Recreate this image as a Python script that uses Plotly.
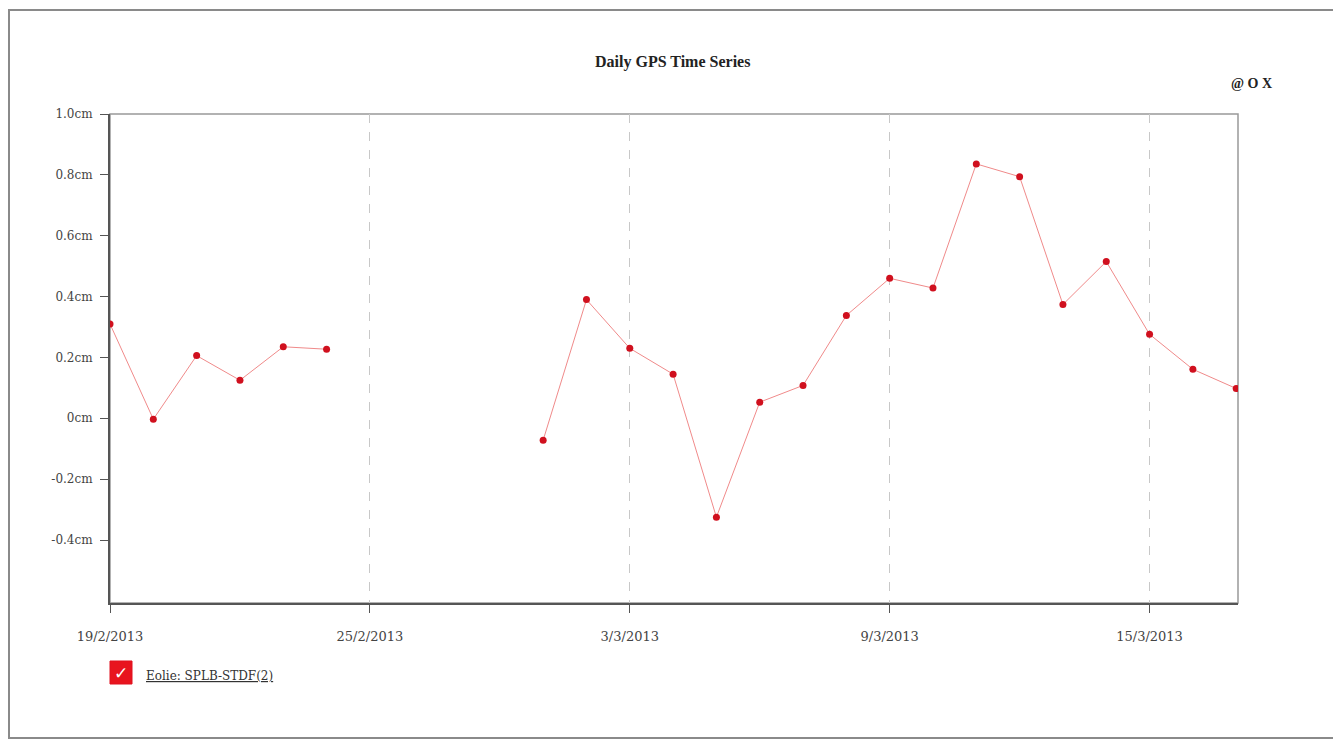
import plotly.graph_objects as go

dates = ["2013-02-19", "2013-02-20", "2013-02-21", "2013-02-22", "2013-02-23", "2013-02-24",
         "2013-02-25", "2013-02-26", "2013-02-27", "2013-02-28",
         "2013-03-01", "2013-03-02", "2013-03-03", "2013-03-04", "2013-03-05", "2013-03-06",
         "2013-03-07", "2013-03-08", "2013-03-09", "2013-03-10", "2013-03-11", "2013-03-12",
         "2013-03-13", "2013-03-14", "2013-03-15", "2013-03-16", "2013-03-17"]
values = [0.310, -0.003, 0.206, 0.125, 0.235, 0.227,
          None, None, None, None,
          -0.072, 0.390, 0.230, 0.145, -0.325, 0.053,
          0.108, 0.338, 0.460, 0.428, 0.836, 0.794,
          0.374, 0.515, 0.276, 0.161, 0.098]

x_tickvals = ["2013-02-19", "2013-02-25", "2013-03-03", "2013-03-09", "2013-03-15"]
x_ticktext = ["19/2/2013", "25/2/2013", "3/3/2013", "9/3/2013", "15/3/2013"]
y_tickvals = [1.0, 0.8, 0.6, 0.4, 0.2, 0.0, -0.2, -0.4]
y_ticktext = ["1.0cm", "0.8cm", "0.6cm", "0.4cm", "0.2cm", "0cm", "-0.2cm", "-0.4cm"]
series_name = "Eolie: SPLB-STDF(2)"
title_text = "Daily GPS Time Series"

OFF = 8  # page body margin
W, H = 1341 - OFF, 744 - OFF
L, T = 110 - OFF, 114 - OFF
R = W - (1238 - OFF)
B = H - (603 - OFF)
pw, ph = W - L - R, H - T - B

def px(x):
    return (x - OFF - L) / pw

def py(y):
    return (H - B - (y - OFF)) / ph

fig = go.Figure()
fig.add_trace(go.Scatter(
    x=dates, y=values, mode="lines+markers", connectgaps=False,
    line=dict(color="#f08a8a", width=1),
    marker=dict(color="#d0101e", size=7),
    name=series_name, showlegend=False, hoverinfo="x+y",
))

xfont = dict(family="DejaVu Serif, Liberation Serif, serif", size=13, color="#444444")
yfont = dict(family="DejaVu Serif, Liberation Serif, serif", size=12, color="#444444")

fig.update_layout(
    width=W, height=H,
    margin=dict(l=L, r=R, t=T, b=B),
    paper_bgcolor="white", plot_bgcolor="white",
    showlegend=False,
    xaxis=dict(
        type="date", range=["2013-02-19", "2013-03-17 01:00"],
        tickvals=x_tickvals, ticktext=x_ticktext,
        showgrid=True, gridcolor="#c8c8c8", griddash="dash", gridwidth=1,
        showline=True, linecolor="#555555", linewidth=2,
        ticks="outside", ticklen=8, tickcolor="#555555", tickwidth=1,
        tickfont=xfont, ticklabelstandoff=12, zeroline=False,
    ),
    yaxis=dict(
        range=[-0.607, 1.0],
        tickvals=y_tickvals, ticktext=y_ticktext,
        showgrid=False, zeroline=False,
        showline=True, linecolor="#555555", linewidth=2,
        ticks="outside", ticklen=8, tickcolor="#555555", tickwidth=1,
        tickfont=yfont, ticklabelstandoff=5,
    ),
    shapes=[
        # plot area border (top/right gray)
        dict(type="rect", xref="paper", yref="paper", x0=0, x1=1, y0=0, y1=1,
             line=dict(color="#999999", width=1.5), layer="below"),
        # outer frame
        dict(type="rect", xref="paper", yref="paper",
             x0=px(9), x1=px(1336), y0=py(738), y1=py(10),
             line=dict(color="#8a8a8a", width=2), layer="below"),
        # legend checkbox
        dict(type="rect", xref="paper", yref="paper",
             x0=px(110), x1=px(132), y0=py(684), y1=py(661),
             line=dict(color="#e0101e", width=1), fillcolor="#e8141e"),
    ],
    annotations=[
        dict(text="<b>" + title_text + "</b>", xref="paper", yref="paper",
             x=px(672), y=py(62), xanchor="center", yanchor="middle", showarrow=False,
             font=dict(family="Liberation Serif, serif", size=16, color="#222222")),
        dict(text="<b>@ O X</b>", xref="paper", yref="paper",
             x=px(1274), y=py(84), xanchor="right", yanchor="middle", showarrow=False,
             font=dict(family="Liberation Serif, serif", size=14, color="#222222")),
        dict(text="✓", xref="paper", yref="paper",
             x=px(121), y=py(673), xanchor="center", yanchor="middle", showarrow=False,
             font=dict(family="DejaVu Sans, sans-serif", size=17, color="white")),
        dict(text="<u>" + series_name + "</u>", xref="paper", yref="paper",
             x=px(144), y=py(676), xanchor="left", yanchor="middle", showarrow=False,
             font=dict(family="DejaVu Serif, Liberation Serif, serif", size=12, color="#333333")),
    ],
)

fig.write_html("out.html")
